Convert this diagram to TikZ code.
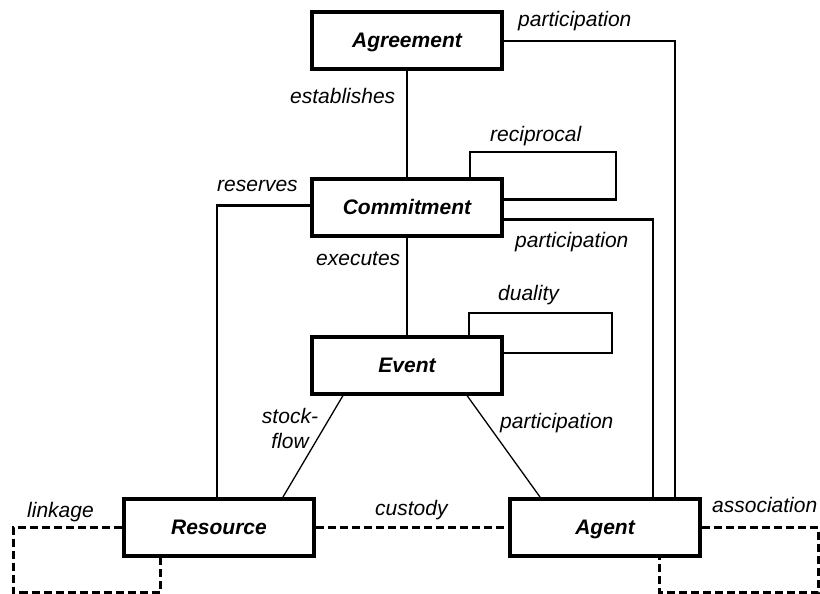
\documentclass[tikz,border=0pt]{standalone}
\usepackage{fontspec}
\setmainfont{Liberation Sans}
\begin{document}
\begin{tikzpicture}[x=1pt,y=-1pt,
    entity/.style={draw,line width=4pt,minimum width=190pt,minimum height=57pt,inner sep=0pt,
        text height=14pt,text depth=0pt,font=\fontsize{21}{25}\selectfont\bfseries\itshape},
    rel/.style={anchor=base west,inner sep=0pt,font=\fontsize{21}{25}\selectfont\itshape},
    link/.style={line width=2.2pt},
    thin link/.style={line width=1.3pt},
    soft link/.style={line width=3pt,dash pattern=on 8pt off 4pt}]
        \useasboundingbox (0,0) rectangle (820,594);
        % Draw the entities
        \node[entity] (agreement) at (407,41) {Agreement};
        \node[entity] (commitment) at (407,207.5) {Commitment};
        \node[entity] (event) at (407,365) {Event};
        \node[entity] (resource) at (219,527.5) {Resource};
        \node[entity] (agent) at (605,527.5) {Agent};
        % Draw the solid relations
        \draw[link] (agreement) -- (commitment);
        \draw[link] (commitment) -- (event);
        \draw[link] (agreement.east) -| ([xshift=70pt]agent.north);
        \draw[link] ([yshift=-12pt]commitment.east) -| ([xshift=48pt]agent.north);
        \draw[link] ([yshift=2pt]commitment.west) -| ([xshift=-2pt]resource.north);
        \draw[link] ([xshift=63pt]commitment.north) |- (616,152) |- ([yshift=8pt]commitment.east);
        \draw[link] ([xshift=62pt]event.north) |- (612,313) |- ([yshift=12pt]event.east);
        \draw[thin link] ([xshift=-64pt]event.south) -- ([xshift=64pt]resource.north);
        \draw[thin link] ([xshift=60pt]event.south) -- ([xshift=-65pt]agent.north);
        % Draw the dashed relations
        \draw[soft link] (resource) -- (agent);
        \draw[soft link] (resource.west) -| (13,592) -| ([xshift=-59pt]resource.south);
        \draw[soft link] (agent.east) -| (818,592) -| ([xshift=54pt]agent.south);
        % Draw the relation names
        \node[rel] (partTop) at (518,27) {participation};
        \node[rel] (establishes) at (290,103) {establishes};
        \node[rel] (reciprocal) at (490,141) {reciprocal};
        \node[rel] (reserves) at (217,191) {reserves};
        \node[rel] (partMid) at (515,247) {participation};
        \node[rel] (executes) at (316,265) {executes};
        \node[rel] (duality) at (498,300) {duality};
        \node[rel,anchor=north,align=center] (stockflow) at (290,408) {stock-\\flow};
        \node[rel] (partLow) at (500,428) {participation};
        \node[rel] (custody) at (375,515) {custody};
        \node[rel] (linkage) at (27,517) {linkage};
        \node[rel] (association) at (712,512) {association};
    \end{tikzpicture}
\end{document}
